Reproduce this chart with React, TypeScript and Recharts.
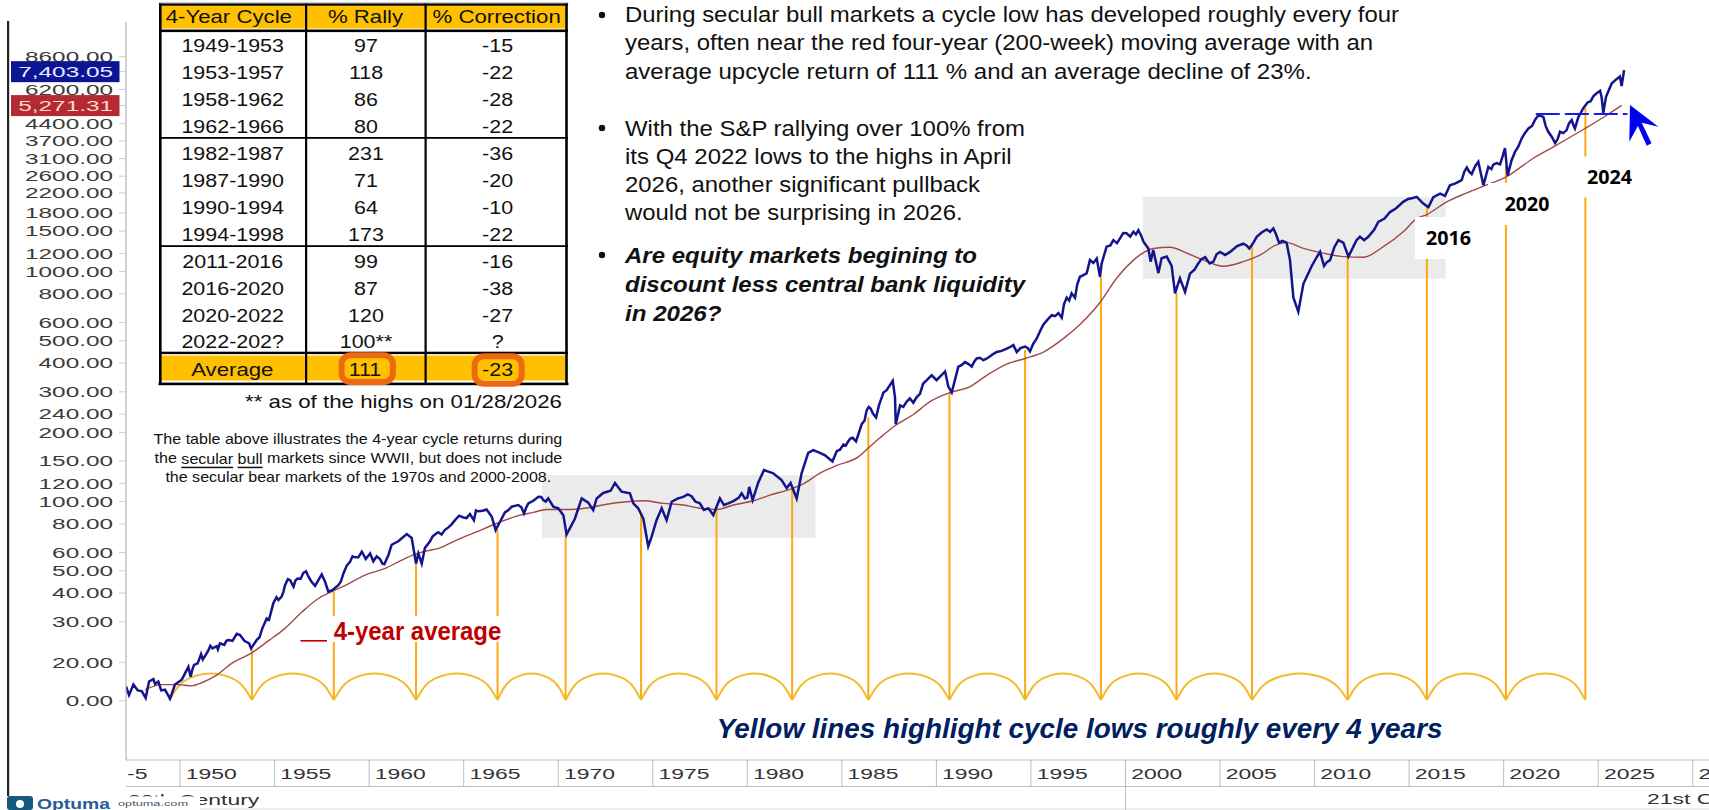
import React from "react";
import {
  ComposedChart,
  Line,
  XAxis,
  YAxis,
  ReferenceArea,
  ReferenceLine,
} from "recharts";

const priceYears = [
  1947.14, 1947.3, 1947.53, 1947.76, 1947.97, 1948.18, 1948.36, 1948.59, 1948.68, 1948.85,
  1949.0, 1949.2, 1949.47, 1949.73, 1950.09, 1950.26, 1950.44, 1950.56, 1950.74, 1950.93,
  1951.11, 1951.32, 1951.5, 1951.71, 1951.94, 1952.11, 1952.34, 1952.55, 1952.77, 1953.0,
  1953.17, 1953.4, 1953.65, 1953.75, 1954.05, 1954.35, 1954.58, 1954.79, 1954.93, 1955.2,
  1955.37, 1955.55, 1955.82, 1956.0, 1956.22, 1956.52, 1956.79, 1957.14, 1957.49, 1957.67,
  1957.84, 1958.05, 1958.37, 1958.64, 1958.99, 1959.25, 1959.61, 1959.82, 1960.05, 1960.22,
  1960.57, 1960.8, 1961.02, 1961.19, 1961.54, 1961.99, 1962.25, 1962.39, 1962.48,
  1962.6, 1962.78, 1962.95, 1963.22, 1963.48, 1963.83, 1964.19, 1964.54, 1964.98, 1965.33,
  1965.54, 1965.77, 1966.21, 1966.48, 1966.69, 1966.92, 1967.18, 1967.54, 1967.89, 1968.19,
  1968.42, 1968.95, 1969.21, 1969.47, 1969.74, 1970.0, 1970.27, 1970.44, 1970.62, 1970.88,
  1971.24, 1971.59, 1971.85, 1972.03, 1972.38, 1972.77, 1973.0, 1973.35, 1973.79, 1973.97,
  1974.23, 1974.5, 1974.76, 1974.94, 1975.2, 1975.47, 1975.73, 1976.0, 1976.61, 1977.05,
  1977.49, 1977.94, 1978.2, 1978.55, 1978.76, 1978.99, 1979.35, 1979.7, 1979.87, 1980.1,
  1980.28, 1980.58, 1980.88, 1981.37, 1981.81, 1982.08, 1982.29, 1982.61, 1982.87, 1983.22,
  1983.49, 1983.84,
  1984.11, 1984.5, 1984.73, 1985.08, 1985.34, 1985.57, 1985.75, 1986.05, 1986.31, 1986.52,
  1986.81, 1987.11, 1987.37, 1987.69, 1987.81, 1987.85, 1988.08, 1988.43, 1988.78, 1989.13,
  1989.49, 1989.75, 1990.01, 1990.46, 1990.63, 1990.81, 1991.16, 1991.51, 1991.87, 1992.13,
  1992.48, 1992.84, 1993.19, 1993.72, 1994.07, 1994.25, 1994.69, 1994.95, 1995.3, 1995.66,
  1996.1, 1996.45, 1996.63, 1996.89, 1997.15, 1997.33, 1997.59, 1997.95, 1998.12, 1998.48,
  1998.65, 1998.74, 1999.0, 1999.36, 1999.71, 2000.06, 2000.42, 2000.68,
  2000.95, 2001.21, 2001.33, 2001.47, 2001.74, 2001.91, 2002.18, 2002.44, 2002.62, 2002.88,
  2003.15, 2003.41, 2003.85, 2004.21, 2004.65, 2005.0, 2005.53, 2006.23, 2006.55, 2006.94,
  2007.47, 2007.82, 2008.12, 2008.52, 2008.7, 2008.88, 2009.14, 2009.41, 2009.85, 2010.29,
  2010.5, 2010.82, 2011.26, 2011.52, 2011.79, 2012.05, 2012.4, 2012.84, 2013.37, 2013.99,
  2014.69, 2015.4, 2015.75, 2016.02,
  2016.28, 2016.64, 2016.9, 2017.16, 2017.78, 2018.05, 2018.31, 2018.66, 2018.93, 2019.19,
  2019.63, 2019.81, 2020.07, 2020.21, 2020.6, 2020.95, 2021.31, 2021.84, 2022.1, 2022.36,
  2022.72, 2022.98, 2023.33, 2023.6, 2023.77, 2024.22, 2024.74, 2025.1, 2025.18, 2025.27,
  2025.41, 2025.71, 2026.15, 2026.24, 2026.37,
];

const priceValues = [
  15.7, 14.4, 16, 15.1, 15, 14, 16.5, 16.9, 16.1, 16.5,
  15.1, 15.2, 13.9, 16, 16.8, 17.9, 19.1, 17.3, 19.5, 19.8,
  21.7, 21.3, 22.6, 23, 23.5, 24.2, 23.8, 25, 24.8, 26.6,
  26.3, 24.8, 24.2, 23, 25, 28.1, 31, 32.6, 36.1, 37.3,
  38.6, 43.3, 45.5, 42.6, 46.3, 49, 47.1, 43, 48.2, 44.8,
  40.6, 41.2, 43.3, 48.7, 54.7, 57.2, 60.5, 56.3, 59.5, 55,
  56.3, 53.4, 58.6, 64.9, 67.2, 72.2, 69.4, 59.5, 53.7,
  59.5, 53.7, 62.9, 67.2, 71.9, 71.9, 77.2, 83, 85.3, 88.3,
  83, 90.7, 92.3, 86, 75.1, 81.7, 89.7, 95, 96.6, 88.8,
  98.2, 105, 101.5, 103.2, 95, 93.5, 87.3, 71.9, 76.6, 84.2,
  103.2, 98.9, 91.8, 103.2, 109, 111.4, 120.5, 110.4, 108.7, 98.2,
  93.5, 84.2, 63.9, 70.4, 83, 93.5, 83, 99.8, 104.8, 105.5,
  98.2, 93.5, 87.3, 103.2, 96.6, 98.2, 101.5, 108.7, 103.2, 115.8,
  101.5, 121.1, 137, 132.7, 124, 114.4, 120.5, 103.2, 132.7, 162.8,
  167.5, 162.8,
  159, 149.5, 165.6, 177, 182.8, 189.4, 182.8, 217, 249, 254,
  232, 284, 305, 335, 284, 217, 262, 272, 269, 294,
  337, 354, 337, 368, 316, 298, 386, 404, 386, 419,
  412, 428, 447, 462, 479, 447, 472, 450, 511, 589,
  647, 660, 630, 770, 805, 770, 950, 985, 1122, 1140,
  950, 1085, 1284, 1371, 1395, 1468, 1490, 1515,
  1348, 1261, 1105, 1240, 985, 1143, 1162, 1058, 805, 936,
  816, 980, 1085, 1155, 1105, 1218, 1218, 1322, 1261, 1417,
  1526, 1541, 1336, 1336, 1122, 770, 670, 885, 1058, 1218,
  1058, 1122, 1371, 1336, 1162, 1284, 1417, 1417, 1645, 1815,
  2010, 2114, 1975, 1908,
  2107, 2185, 2136, 2375, 2499, 2835, 2655, 3005, 2375, 2855,
  2965, 2925, 3440, 2615, 3315, 3790, 4190, 4785, 4705, 4055,
  3620, 4055, 4122, 4556, 4190, 5150, 5780, 6110, 5740, 4900,
  5740, 6570, 7050, 6410, 7515,
];

const priceDetailYears = [
  1950.65, 1951.2, 1951.6, 1952.0, 1952.45, 1954.2, 1954.7, 1955.1, 1955.46, 1955.7,
  1956.1, 1956.38, 1956.66, 1956.95, 1958.5, 1958.82, 1959.12, 1959.43, 1959.7, 1960.4,
  1960.7, 1963.35, 1963.65, 1964.0, 1964.36, 1964.76, 1965.15, 1965.65, 1966.0, 1967.35,
  1967.7, 1968.05, 1968.3, 1968.7, 1969.1, 1969.34, 1976.3, 1976.85, 1977.25, 1977.7,
  1979.2, 1979.55, 1980.0, 1984.9, 1985.2, 1985.45, 1986.2, 1986.42, 1986.65, 1986.96,
  1987.2, 1988.25, 1988.6, 1988.95, 1989.3, 1989.65, 1991.33, 1991.7, 1992.0, 1992.3,
  1992.65, 1993.0, 1993.45, 1993.9, 1994.45, 1994.82, 1995.12, 1995.48, 1995.88, 1996.28,
  1996.75, 1997.02, 1997.45, 1997.75, 1998.3, 1999.2, 1999.55, 1999.88, 2000.25, 2000.55,
  2000.82, 2003.65, 2004.0, 2004.45, 2004.82, 2005.27, 2005.9, 2006.4, 2006.75, 2007.2,
  2007.65, 2007.95, 2008.3, 2010.1, 2010.65, 2011.05, 2012.22, 2012.62, 2013.15, 2013.7,
  2014.3, 2014.95, 2015.2, 2017.45, 2017.92, 2018.18, 2018.5, 2019.35, 2019.45, 2019.96,
  2020.42, 2020.78, 2021.12, 2021.5, 2021.68, 2022.22, 2022.55, 2022.85, 2023.15, 2023.45,
  2023.7, 2023.95, 2024.45, 2024.6, 2024.9, 2025.56, 2025.95,
];
const priceDetailValues = [
  18.6, 20.6, 23.6, 22.8, 24.8, 25.7, 30.6, 38.4, 40.4, 46,
  45.4, 46.2, 49.8, 44.8, 44.8, 52.8, 57.8, 57.2, 58.8, 57.8,
  53.7, 70.4, 73.6, 75.2, 79.6, 86.8, 84.8, 91.5, 91.2, 91.6,
  95.8, 94.4, 94, 101, 104.8, 100, 103, 107.4, 100, 92,
  100, 104, 104, 168, 175, 188, 225, 258, 241, 262,
  298, 258, 281, 284, 326, 348, 392, 396, 406, 422,
  418, 438, 452, 470, 465, 466, 485, 550, 618, 640,
  722, 748, 880, 962, 1090, 1300, 1330, 1470, 1420, 1450,
  1440, 1020, 1130, 1085, 1190, 1180, 1290, 1300, 1330, 1480,
  1490, 1460, 1360, 1150, 1100, 1280, 1370, 1370, 1520, 1700,
  1880, 2070, 2090, 2420, 2720, 2720, 2880, 2790, 2920, 3200,
  3050, 3500, 4000, 4300, 4600, 4300, 3850, 3760, 4000, 4400,
  4310, 4700, 5450, 5500, 5950, 6150, 6850,
];

const averageYears = [
  1948.15, 1949.03, 1949.91, 1950.62, 1951.14, 1951.85, 1952.73, 1953.79, 1954.67, 1955.55,
  1956.43, 1957.31, 1958.02, 1958.9, 1959.78, 1960.84, 1961.72, 1962.34, 1963.04, 1963.75,
  1964.63, 1965.68, 1966.74, 1967.8, 1968.68, 1969.39, 1970.44, 1971.5, 1972.56, 1973.62,
  1974.5, 1975.56, 1976.61, 1977.49, 1978.38, 1979.26, 1980.31, 1981.2, 1982.25, 1983.05,
  1983.84, 1984.73, 1985.87, 1986.4, 1987.02, 1987.81, 1988.78, 1989.66, 1990.72, 1991.78,
  1992.66, 1993.72, 1994.69, 1995.66, 1996.71, 1997.59, 1998.65, 1999.53, 2000.42, 2000.77,
  2001.47, 2002.36, 2003.24, 2004.12, 2005.18, 2006.23, 2007.11, 2007.98, 2008.52, 2009.41,
  2010.46, 2011.52, 2012.58, 2013.64, 2014.69, 2015.4, 2015.93, 2016.99, 2018.05, 2018.93,
  2020.16, 2021.57, 2022.72, 2024.3, 2025.45, 2026.24,
];

const averageValues = [
  15.2, 16, 16, 15.8, 16.3, 17.4, 19.8, 22, 24.8, 28.1,
  33, 37.9, 40.6, 43.9, 47.9, 51.2, 55.6, 58.6, 61, 62.9,
  68, 73.8, 80.3, 86.5, 89.7, 92.3, 92.3, 93.8, 97.4, 99.8,
  100.8, 98.2, 96.6, 93.5, 92.3, 96.6, 100.8, 106.7, 113, 120.5,
  133, 143.6, 156.4, 171, 189.4, 213.7, 239, 272, 298, 316,
  354, 396, 419, 447, 511, 589, 734, 936, 1122, 1183,
  1261, 1276, 1203, 1122, 1055, 1105, 1180, 1306, 1336, 1261,
  1203, 1162, 1155, 1284, 1490, 1700, 1770, 2010, 2200, 2355,
  2590, 3110, 3520, 4190, 4785, 5280,
];

// cycle lows and the level each yellow line climbs to
const cycleLows = [
  1949.44, 1953.8, 1958.13, 1962.48, 1966.79, 1970.39, 1974.38, 1978.37, 1982.37, 1986.4,
  1990.69, 1994.69, 1998.7, 2002.7, 2006.69, 2011.75, 2015.94, 2020.12, 2024.32,
];
const cycleTops = [
  13.9, 23, 40.6, 53.7, 75, 71.9, 87.3, 93.5, 113, 232,
  298, 456, 950, 805, 1306, 1162, 1908, 2855, 5150,
];

const archYears = [
  [1949.44, 1949.88, 1950.53, 1951.62, 1952.71, 1953.36, 1953.8],
  [1953.8, 1954.23, 1954.88, 1955.97, 1957.05, 1957.7, 1958.13],
  [1958.13, 1958.57, 1959.22, 1960.3, 1961.39, 1962.05, 1962.48],
  [1962.48, 1962.91, 1963.56, 1964.64, 1965.71, 1966.36, 1966.79],
  [1966.79, 1967.15, 1967.69, 1968.59, 1969.49, 1970.03, 1970.39],
  [1970.39, 1970.79, 1971.39, 1972.38, 1973.38, 1973.98, 1974.38],
  [1974.38, 1974.78, 1975.38, 1976.37, 1977.37, 1977.97, 1978.37],
  [1978.37, 1978.77, 1979.37, 1980.37, 1981.37, 1981.97, 1982.37],
  [1982.37, 1982.77, 1983.38, 1984.38, 1985.39, 1986.0, 1986.4],
  [1986.4, 1986.83, 1987.47, 1988.54, 1989.62, 1990.26, 1990.69],
  [1990.69, 1991.09, 1991.69, 1992.69, 1993.69, 1994.29, 1994.69],
  [1994.69, 1995.09, 1995.69, 1996.69, 1997.7, 1998.3, 1998.7],
  [1998.7, 1999.1, 1999.7, 2000.7, 2001.7, 2002.3, 2002.7],
  [2002.7, 2003.1, 2003.7, 2004.69, 2005.69, 2006.29, 2006.69],
  [2006.69, 2007.2, 2007.96, 2009.22, 2010.49, 2011.24, 2011.75],
  [2011.75, 2012.17, 2012.8, 2013.84, 2014.89, 2015.52, 2015.94],
  [2015.94, 2016.36, 2016.98, 2018.03, 2019.08, 2019.7, 2020.12],
  [2020.12, 2020.54, 2021.17, 2022.22, 2023.27, 2023.9, 2024.32],
];
const archValues = [13.7, 15.6, 17.1, 17.9, 17.1, 15.6, 13.7];

const yTicks = [
  13.6, 20, 30, 40, 50, 60, 80, 100, 120, 150, 200, 240, 300, 400, 500, 600, 800, 1000, 1200,
  1500, 1800, 2200, 2600, 3100, 3700, 4400, 6200, 8600, 7403.05, 5271.31,
];
const xTicks = [
  1950, 1955, 1960, 1965, 1970, 1975, 1980, 1985, 1990, 1995, 2000, 2005, 2010, 2015, 2020, 2025, 2030,
];

const tableCycles = [
  "1949-1953", "1953-1957", "1958-1962", "1962-1966", "1982-1987", "1987-1990",
  "1990-1994", "1994-1998", "2011-2016", "2016-2020", "2020-2022", "2022-202?",
];
const tableRally = ["97", "118", "86", "80", "231", "71", "64", "173", "99", "87", "120", "100**"];
const tableCorrection = ["-15", "-22", "-28", "-22", "-36", "-20", "-10", "-22", "-16", "-38", "-27", "?"];
const tableRowY = [45.7, 72.7, 99.3, 126.3, 153.3, 180.3, 207.3, 234.3, 261.3, 288.3, 315.3, 341.3];

const priceData = [
  ...priceYears.map((year, i) => ({ year, value: priceValues[i] })),
  ...priceDetailYears.map((year, i) => ({ year, value: priceDetailValues[i] })),
].sort((a, b) => a.year - b.year);
const averageData = averageYears.map((year, i) => ({ year, value: averageValues[i] }));

const SANS = "'Liberation Sans', Arial, sans-serif";

const YTick = ({ x, y, payload }: any) => {
  const v = payload.value;
  const isPrice = v === 7403.05;
  const isAverage = v === 5271.31;
  const badge = isPrice || isAverage;
  const label = v < 14 ? "0.00" : badge ? v.toLocaleString("en-US", { minimumFractionDigits: 2 }) : v.toFixed(2);
  return (
    <g>
      <line x1={x - 7} x2={x} y1={y} y2={y} stroke="#cccccc" />
      {badge && (
        <rect x={11} y={y - 10.5} width={108.5} height={21} fill={isPrice ? "#0b1596" : "#b32a33"} />
      )}
      <text
        transform={`translate(${x - 13},${y}) scale(1.58,1)`}
        textAnchor="end"
        dominantBaseline="central"
        fontFamily={SANS}
        fontSize={15.4}
        fill={isPrice ? "#e8ecff" : isAverage ? "#ffd9c9" : "#3a3a3a"}
      >
        {label}
      </text>
    </g>
  );
};

const XTick = ({ x, y, payload }: any) => (
  <g>
    <line x1={x} x2={x} y1={y} y2={y + 26} stroke="#bdbdbd" />
    <text
      transform={`translate(${x + 5.7},${y + 14}) scale(1.56,1)`}
      dominantBaseline="central"
      fontFamily={SANS}
      fontSize={14.7}
      fill="#333333"
    >
      {payload.value}
    </text>
  </g>
);

const T = ({ x, y, w, size, fill = "#111111", weight, italic, font = SANS, children }: any) => (
  <text
    x={x}
    y={y}
    textLength={w}
    lengthAdjust="spacingAndGlyphs"
    dominantBaseline="central"
    fontFamily={font}
    fontSize={size}
    fontWeight={weight}
    fontStyle={italic ? "italic" : undefined}
    fill={fill}
  >
    {children}
  </text>
);

const Cell = ({ cx, y, stretch = 1.16, children }: any) => (
  <text
    transform={`translate(${cx},${y}) scale(${stretch},1)`}
    textAnchor="middle"
    dominantBaseline="central"
    fontFamily={SANS}
    fontSize={18.5}
    fill="#111111"
  >
    {children}
  </text>
);

const Overlay = () => (
  <svg width={1709} height={810} style={{ position: "absolute", left: 0, top: 0 }}>
    {/* frame pieces of the platform screenshot */}
    <rect x={7} y={21} width={2.2} height={775} fill="#222222" />
    <rect x={126} y={786} width={1583} height={1} fill="#bdbdbd" />
    <rect x={0} y={808.5} width={1709} height={1} fill="#dddddd" />
    <rect x={1125} y={786} width={1} height={24} fill="#bdbdbd" />
    <text
      transform="translate(127,774) scale(1.56,1)"
      dominantBaseline="central"
      fontFamily={SANS}
      fontSize={14.7}
      fill="#333333"
    >
      -5
    </text>
    <text
      transform="translate(1647,799) scale(1.56,1)"
      dominantBaseline="central"
      fontFamily={SANS}
      fontSize={14.7}
      fill="#333333"
    >
      21st Century
    </text>
    <text
      transform="translate(128,800) scale(1.56,1)"
      dominantBaseline="central"
      fontFamily={SANS}
      fontSize={14.7}
      fill="#333333"
    >
      20th Century
    </text>
    <rect x={0} y={796.5} width={200} height={14} fill="#ffffff" />
    <rect x={7} y={796} width={26} height={14} rx={3} fill="#175a80" />
    <circle cx={20} cy={804} r={4} fill="#ffffff" />
    <T x={37} y={803} w={73} size={15} weight="bold" fill="#2a5d96">Optuma</T>
    <T x={118} y={803.5} w={70} size={8} fill="#445566">optuma.com</T>

    {/* table */}
    <rect x={158.5} y={3} width={410} height={382} fill="#ffffff" />
    <rect x={158.5} y={2.5} width={410} height={1} fill="#999999" />
    <rect x={161} y={5.5} width={404} height={23} fill="#ffc000" />
    <rect x={161} y={355.5} width={404} height={25} fill="#ffc000" />
    <rect x={159} y={3.5} width={409} height={2.2} fill="#000000" />
    <rect x={159} y={29.5} width={409} height={2.6} fill="#000000" />
    <rect x={159} y={137} width={409} height={1.8} fill="#000000" />
    <rect x={159} y={245.2} width={409} height={1.8} fill="#000000" />
    <rect x={159} y={351.7} width={409} height={2.4} fill="#000000" />
    <rect x={158.5} y={382.6} width={410} height={2.6} fill="#000000" />
    <rect x={159} y={3.5} width={2.6} height={381} fill="#000000" />
    <rect x={565.2} y={3.5} width={2.6} height={381} fill="#000000" />
    <rect x={305} y={3.5} width={2.2} height={380} fill="#000000" />
    <rect x={424.5} y={3.5} width={2.2} height={380} fill="#000000" />
    <Cell cx={228.8} y={17} stretch={1.2}>4-Year Cycle</Cell>
    <Cell cx={365.5} y={17} stretch={1.2}>% Rally</Cell>
    <Cell cx={496.6} y={17} stretch={1.2}>% Correction</Cell>
    {tableCycles.map((c, i) => (
      <g key={c}>
        <Cell cx={232.7} y={tableRowY[i]}>{c}</Cell>
        <Cell cx={366} y={tableRowY[i]}>{tableRally[i]}</Cell>
        <Cell cx={497.6} y={tableRowY[i]}>{tableCorrection[i]}</Cell>
      </g>
    ))}
    <Cell cx={232.3} y={369.3} stretch={1.2}>Average</Cell>
    <Cell cx={365} y={369.3}>111</Cell>
    <Cell cx={497.6} y={369.3}>-23</Cell>
    <rect x={341.5} y={355.3} width={51.4} height={26.7} rx={9} fill="none" stroke="#ee6a12" strokeWidth={6} />
    <rect x={474.7} y={356.3} width={47} height={27.4} rx={9} fill="none" stroke="#ee6a12" strokeWidth={6} />

    <T x={245} y={401.7} w={317} size={19}>** as of the highs on 01/28/2026</T>
    <T x={153.5} y={438.7} w={408.8} size={15}>The table above illustrates the 4-year cycle returns during</T>
    <T x={154.6} y={457.7} w={407.7} size={15}>
      the <tspan textDecoration="underline">secular</tspan> <tspan textDecoration="underline">bull</tspan> markets since WWII, but does not include
    </T>
    <T x={165.4} y={476.7} w={385.8} size={15}>the secular bear markets of the 1970s and 2000-2008.</T>

    {/* commentary */}
    <circle cx={602} cy={15} r={3.2} fill="#111111" />
    <T x={625} y={14.3} w={774} size={22.5}>During secular bull markets a cycle low has developed roughly every four</T>
    <T x={625} y={42.7} w={748} size={22.5}>years, often near the red four-year (200-week) moving average with an</T>
    <T x={625} y={71} w={686.6} size={22.5}>average upcycle return of 111 % and an average decline of 23%.</T>
    <circle cx={602} cy={128} r={3.2} fill="#111111" />
    <T x={625} y={128.3} w={400} size={22.5}>With the S&amp;P rallying over 100% from</T>
    <T x={625} y={156.7} w={386.6} size={22.5}>its Q4 2022 lows to the highs in April</T>
    <T x={625} y={184.3} w={355} size={22.5}>2026, another significant pullback</T>
    <T x={625} y={212.7} w={337.6} size={22.5}>would not be surprising in 2026.</T>
    <circle cx={602} cy={255} r={3.2} fill="#111111" />
    <T x={625} y={255.3} w={352} size={22.5} weight="bold" italic>Are equity markets begining to</T>
    <T x={625} y={284.3} w={400} size={22.5} weight="bold" italic>discount less central bank liquidity</T>
    <T x={625} y={313.3} w={96.5} size={22.5} weight="bold" italic>in 2026?</T>

    {/* callouts on the chart */}
    <rect x={300} y={616} width={201.5} height={25.7} fill="#ffffff" />
    <rect x={300.4} y={640} width={26.6} height={1.6} fill="#c00000" />
    <T x={333.7} y={630.7} w={167.6} size={25} weight="bold" fill="#c00000">4-year average</T>
    <T x={716.8} y={729.3} w={725.7} size={27} weight="bold" italic fill="#002060">
      Yellow lines highlight cycle lows roughly every 4 years
    </T>
    <rect x={1415} y={217} width={75} height={42} fill="#ffffff" />
    <rect x={1488} y={183} width={72} height={42} fill="#ffffff" />
    <rect x={1568} y={156.5} width={72} height={41} fill="#ffffff" />
    <T x={1426} y={238.3} w={45} size={19} weight="bold" font="'Open Sans', sans-serif" fill="#000000">2016</T>
    <T x={1504.7} y={204} w={44.6} size={19} weight="bold" font="'Open Sans', sans-serif" fill="#000000">2020</T>
    <T x={1587} y={176.7} w={45} size={19} weight="bold" font="'Open Sans', sans-serif" fill="#000000">2024</T>
    <polygon
      points="1630,105 1658.4,126.7 1641.7,122.7 1651.5,143.3 1646.8,145.7 1637.9,126 1629.3,141.7"
      fill="#0000f0"
    />
  </svg>
);

export default function App() {
  return (
    <div style={{ position: "absolute", left: 0, top: 0, width: 1709, height: 810, overflow: "hidden", background: "#ffffff" }}>
      <ComposedChart
        width={1709}
        height={810}
        data={priceData}
        margin={{ top: 22, right: 0, bottom: 0, left: 0 }}
      >
        <XAxis
          type="number"
          dataKey="year"
          domain={[1947.14, 2030.86]}
          allowDataOverflow
          ticks={xTicks}
          interval={0}
          height={50}
          stroke="#bdbdbd"
          tickLine={false}
          tickSize={0}
          tickMargin={0}
          tick={<XTick />}
        />
        <YAxis
          type="number"
          scale="log"
          domain={[7.52, 12172]}
          allowDataOverflow
          ticks={yTicks}
          interval={0}
          width={126}
          stroke="#a8a8a8"
          tickLine={false}
          tickSize={0}
          tickMargin={0}
          tick={<YTick />}
        />
        <ReferenceArea x1={1969.14} x2={1983.6} y1={69.6} y2={130.5} fill="#ebebeb" fillOpacity={1} stroke="none" />
        <ReferenceArea x1={2000.91} x2={2016.93} y1={932} y2={2117} fill="#ebebeb" fillOpacity={1} stroke="none" />
        {cycleLows.map((low, i) => (
          <ReferenceLine
            key={low}
            segment={[{ x: low, y: 13.7 }, { x: low, y: cycleTops[i] }]}
            stroke="#fda90f"
            strokeWidth={2}
          />
        ))}
        {archYears.map((years) => (
          <Line
            key={years[0]}
            data={years.map((year, j) => ({ year, value: archValues[j] }))}
            dataKey="value"
            type="monotone"
            stroke="#f4ba2c"
            strokeWidth={2}
            dot={false}
            isAnimationActive={false}
            legendType="none"
          />
        ))}
        <Line
          data={averageData}
          dataKey="value"
          type="monotone"
          stroke="#a04a48"
          strokeWidth={1.4}
          dot={false}
          isAnimationActive={false}
        />
        <Line
          dataKey="value"
          type="linear"
          stroke="#14148c"
          strokeWidth={2.5}
          dot={false}
          isAnimationActive={false}
        />
        <ReferenceLine
          segment={[{ x: 2021.7, y: 4845 }, { x: 2026.55, y: 4845 }]}
          stroke="#1a1af0"
          strokeWidth={2}
          strokeDasharray="24 5"
        />
      </ComposedChart>
      <Overlay />
    </div>
  );
}
